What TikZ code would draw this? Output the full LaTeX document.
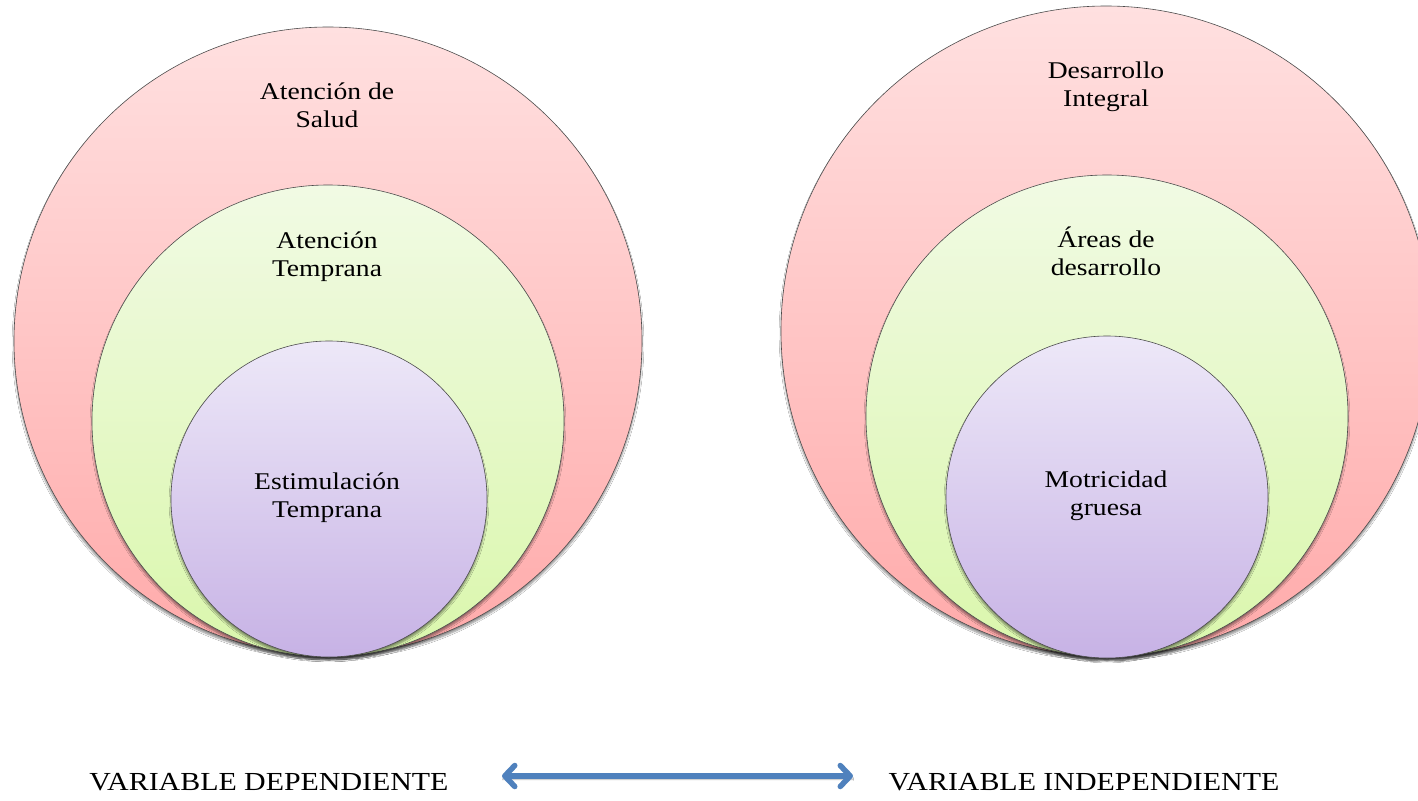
\documentclass[tikz,border=0pt]{standalone}
\usepackage{fontspec}
\setmainfont[FakeStretch=1.15]{Liberation Serif}
\usetikzlibrary{shadows.blur,arrows.meta}
\definecolor{arrowblue}{HTML}{4F81BD}
\tikzset{
  ring/.style={circle, draw=black!70, line width=0.6pt, inner sep=0pt,
    blur shadow={shadow xshift=0pt, shadow yshift=-3pt, shadow blur steps=6, shadow opacity=45}},
  outerring/.style={ring, top color={rgb,255:red,255;green,224;blue,224}, bottom color={rgb,255:red,255;green,170;blue,170}},
  midring/.style={ring, top color={rgb,255:red,241;green,250;blue,228}, bottom color={rgb,255:red,218;green,247;blue,172}},
  innerring/.style={ring, top color={rgb,255:red,237;green,232;blue,248}, bottom color={rgb,255:red,199;green,178;blue,229}},
  ringtext/.style={align=center, font=\fontsize{24}{28}\selectfont, inner sep=0pt},
  vartext/.style={font=\fontsize{26}{30}\selectfont, inner sep=0pt},
}
\begin{document}
\begin{tikzpicture}[x=1pt,y=-1pt]
\clip (0,0) rectangle (1418,800);
\fill[white] (0,0) rectangle (1418,800);
% left set
\node[outerring, minimum size=628pt] (lo) at (328,341) {};
\node[midring, minimum size=472pt] (lm) at (328,421) {};
\node[innerring, minimum size=316pt] (li) at (329,499) {};
% right set
\node[outerring, minimum size=650pt] (ro) at (1106,331) {};
\node[midring, minimum size=482pt] (rm) at (1107,416) {};
\node[innerring, minimum size=322pt] (ri) at (1107,497) {};
% texts
\node[ringtext] (t1) at (327,105) {Atención de\\Salud};
\node[ringtext] (t2) at (327,257) {Atención\\Temprana};
\node[ringtext] (t3) at (327,498) {Estimulación\\Temprana};
\node[ringtext] (t4) at (1106,87) {Desarrollo\\Integral};
\node[ringtext] (t5) at (1106,251) {Áreas de\\desarrollo};
\node[ringtext] (t6) at (1106,496) {Motricidad\\gruesa};
% labels
\node[vartext] (vd) at (269,782) {VARIABLE DEPENDIENTE};
\node[vartext] (vi) at (1084,782) {VARIABLE INDEPENDIENTE};
\coordinate (al) at (502,776);
\coordinate (ar) at (853,776);
\draw[arrowblue, line width=5.5pt,
  blur shadow={shadow xshift=0pt, shadow yshift=-3pt, shadow blur steps=5, shadow opacity=35},
  {Straight Barb[length=10pt,width=21pt,line cap=round,line join=round]}-{Straight Barb[length=10pt,width=21pt,line cap=round,line join=round]}]
  (al) -- (ar);
\end{tikzpicture}
\end{document}
